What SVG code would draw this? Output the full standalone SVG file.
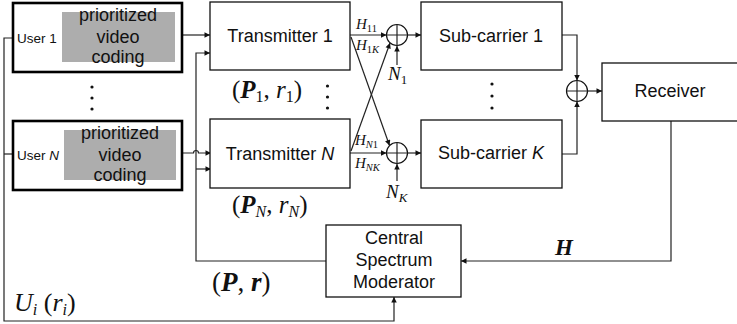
<svg xmlns="http://www.w3.org/2000/svg" width="737" height="324" viewBox="0 0 737 324">
<style>
.box{fill:#fff;stroke:#111;stroke-width:1.3}
.ubox{fill:#fff;stroke:#000;stroke-width:2.6}
.gray{fill:#adadad;stroke:none}
.lbl{font-family:"Liberation Sans",Arial,sans-serif;font-size:18px;fill:#111;text-anchor:middle}
.ulbl{font-family:"Liberation Sans",Arial,sans-serif;font-size:13.5px;fill:#111}
.m{font-family:"Liberation Serif","Times New Roman",serif;fill:#111}
.mi{font-style:italic}
.mb{font-style:italic;font-weight:bold}
.c{fill:none;stroke:#222;stroke-width:1.2}
.dot{fill:#111}
.add{fill:#fff;stroke:#111;stroke-width:1.2}
</style>
<defs>
<marker id="ah" viewBox="0 0 10 10" refX="10" refY="5" markerWidth="8" markerHeight="5.5" orient="auto" markerUnits="userSpaceOnUse"><path d="M0,0 L10,5 L0,10 z" fill="#111"/></marker>
</defs>

<g id="connectors">
<path class="c" d="M182,35 H210" marker-end="url(#ah)"/>
<path class="c" d="M182,153 H193.5 a2.5,2.5 0 0 1 5,0 H211" marker-end="url(#ah)"/>
<path class="c" d="M326,261 H196 V53 H210" marker-end="url(#ah)"/>
<path class="c" d="M196,169 H211" marker-end="url(#ah)"/>
<path class="c" d="M13,38 H4 V321 H394 V297" marker-end="url(#ah)"/>
<path class="c" d="M4,154 H13"/>
<path class="c" d="M350,35 H386.5" marker-end="url(#ah)"/>
<path class="c" d="M350,153 H386.5" marker-end="url(#ah)"/>
<path class="c" d="M351,37 L389.5,145.5" marker-end="url(#ah)"/>
<path class="c" d="M351,151 L390,43" marker-end="url(#ah)"/>
<path class="c" d="M397,65 V46" marker-end="url(#ah)"/>
<path class="c" d="M397,181 V164" marker-end="url(#ah)"/>
<path class="c" d="M408,35 H421" marker-end="url(#ah)"/>
<path class="c" d="M408,153 H421" marker-end="url(#ah)"/>
<path class="c" d="M562,35 H577 V80.5" marker-end="url(#ah)"/>
<path class="c" d="M562,154 H577 V101.5" marker-end="url(#ah)"/>
<path class="c" d="M587.5,91 H602" marker-end="url(#ah)"/>
<path class="c" d="M671,121 V261 H461" marker-end="url(#ah)"/>
</g>

<g id="user1">
<rect class="ubox" x="13" y="3" width="169" height="69"/>
<rect class="gray" x="62" y="12" width="113" height="50"/>
<text class="ulbl" x="17" y="43">User 1</text>
<text class="lbl" x="118" y="21">prioritized</text>
<text class="lbl" x="118" y="43">video</text>
<text class="lbl" x="118" y="63">coding</text>
</g>
<g id="userN">
<rect class="ubox" x="13" y="121" width="169" height="69"/>
<rect class="gray" x="64" y="130" width="112" height="50"/>
<text class="ulbl" x="17" y="160">User <tspan font-style="italic">N</tspan></text>
<text class="lbl" x="120" y="139">prioritized</text>
<text class="lbl" x="120" y="161">video</text>
<text class="lbl" x="120" y="181">coding</text>
</g>
<g id="user-dots">
<circle class="dot" cx="92" cy="87" r="1.6"/>
<circle class="dot" cx="92" cy="98" r="1.6"/>
<circle class="dot" cx="92" cy="109" r="1.6"/>
</g>

<g id="tx1">
<rect class="box" x="210" y="2" width="140" height="68"/>
<text class="lbl" x="280" y="42">Transmitter 1</text>
</g>
<g id="txN">
<rect class="box" x="210" y="119" width="140" height="69"/>
<text class="lbl" x="280" y="160">Transmitter <tspan font-style="italic">N</tspan></text>
</g>
<g id="tx-dots">
<circle class="dot" cx="327.5" cy="86" r="1.6"/>
<circle class="dot" cx="327.5" cy="97" r="1.6"/>
<circle class="dot" cx="327.5" cy="108" r="1.6"/>
</g>
<text class="m" x="232" y="98" font-size="25">(<tspan class="mb">P</tspan><tspan font-size="16" dy="4">1</tspan><tspan dy="-4">, </tspan><tspan class="mi">r</tspan><tspan font-size="16" dy="4">1</tspan><tspan dy="-4">)</tspan></text>
<text class="m" x="232" y="213" font-size="25">(<tspan class="mb">P</tspan><tspan class="mi" font-size="16" dy="4">N</tspan><tspan dy="-4">, </tspan><tspan class="mi">r</tspan><tspan class="mi" font-size="16" dy="4">N</tspan><tspan dy="-4">)</tspan></text>

<g id="adder1">
<circle class="add" cx="397" cy="35" r="10.5"/>
<path class="c" d="M386.5,35 H407.5 M397,24.5 V45.5"/>
</g>
<g id="adder2">
<circle class="add" cx="397" cy="153" r="10.5"/>
<path class="c" d="M386.5,153 H407.5 M397,142.5 V163.5"/>
</g>
<text class="m mi" x="356" y="29" font-size="15">H<tspan font-style="normal" font-size="10.5" dy="3">11</tspan></text>
<text class="m mi" x="356" y="50" font-size="15">H<tspan font-size="10.5" dy="3"><tspan font-style="normal">1</tspan>K</tspan></text>
<text class="m mi" x="355" y="145" font-size="15">H<tspan font-size="10.5" dy="3">N<tspan font-style="normal">1</tspan></tspan></text>
<text class="m mi" x="355" y="168" font-size="15">H<tspan font-size="10.5" dy="3">NK</tspan></text>
<text class="m mi" x="388" y="80" font-size="19">N<tspan font-style="normal" font-size="13" dy="4">1</tspan></text>
<text class="m mi" x="386" y="198" font-size="19">N<tspan font-size="13" dy="4">K</tspan></text>

<g id="sc1">
<rect class="box" x="421" y="2" width="141" height="68"/>
<text class="lbl" x="491" y="42">Sub-carrier 1</text>
</g>
<g id="scK">
<rect class="box" x="421" y="120" width="141" height="68"/>
<text class="lbl" x="491" y="159">Sub-carrier <tspan font-style="italic">K</tspan></text>
</g>
<g id="sc-dots">
<circle class="dot" cx="492" cy="84" r="1.6"/>
<circle class="dot" cx="492" cy="96" r="1.6"/>
<circle class="dot" cx="492" cy="108" r="1.6"/>
</g>

<g id="adder3">
<circle class="add" cx="577" cy="91" r="10.5"/>
<path class="c" d="M566.5,91 H587.5 M577,80.5 V101.5"/>
</g>

<g id="receiver">
<rect class="box" x="602" y="63" width="140" height="58"/>
<text class="lbl" x="670" y="97">Receiver</text>
</g>

<g id="csm">
<rect class="box" x="326" y="225" width="135" height="72"/>
<text class="lbl" x="394" y="244" font-size="17">Central</text>
<text class="lbl" x="394" y="266" font-size="17">Spectrum</text>
<text class="lbl" x="394" y="288" font-size="17">Moderator</text>
</g>

<text class="m mb" x="555" y="255" font-size="23">H</text>
<text class="m" x="212" y="291" font-size="27">(<tspan class="mb">P</tspan>, <tspan class="mb">r</tspan>)</text>
<text class="m" x="14" y="311" font-size="26"><tspan class="mi">U</tspan><tspan class="mi" font-size="16" dy="4">i</tspan><tspan dy="-4"> (</tspan><tspan class="mi">r</tspan><tspan class="mi" font-size="16" dy="4">i</tspan><tspan dy="-4">)</tspan></text>
</svg>
